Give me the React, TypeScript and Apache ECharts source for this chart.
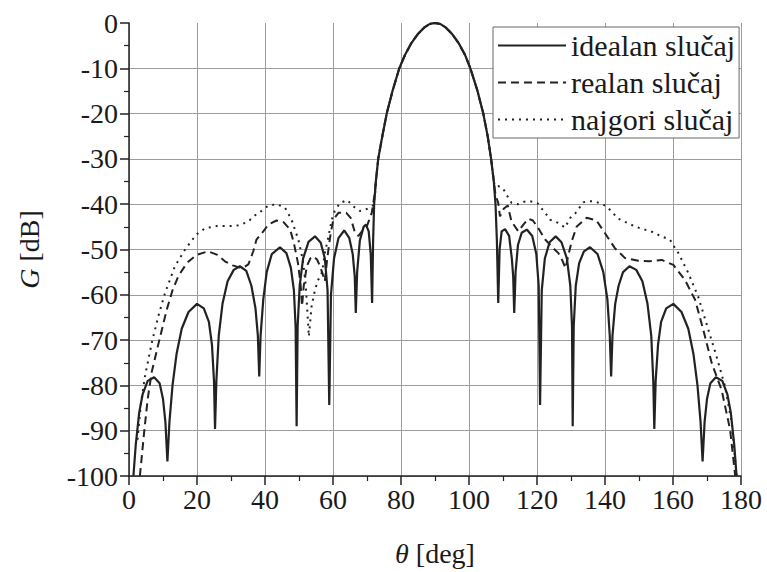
import React, { useEffect, useRef } from "react";
import * as echarts from "echarts";

const xTicks = [0, 20, 40, 60, 80, 100, 120, 140, 160, 180];
const yTicks = [0, -10, -20, -30, -40, -50, -60, -70, -80, -90, -100];
const seriesNames = ["idealan slučaj", "realan slučaj", "najgori slučaj"];

const mainLobeTheta = [72.6, 73.3, 74.5, 75.8, 77.5, 79.5, 81.2, 83, 85, 87, 88.5, 90, 91.5, 93, 95, 97, 98.8, 100.4, 102.5, 104.2, 105.5, 106.5, 107.3];
const mainLobeG = [-35, -30, -25, -20, -15, -10, -7, -4.5, -2.4, -0.9, -0.2, 0, -0.2, -0.9, -2.4, -4.5, -7, -10, -15, -20, -25, -30, -35];

const idealLeftTheta = [1.3, 2, 3, 4, 5.5, 7.4, 9, 10, 10.7, 11.3, 11.9, 12.8, 14, 15.5, 17.5, 20, 22, 23.5, 24.4, 25, 25.3, 25.7, 26.4, 27.5, 29, 30.8, 32.6, 34.5, 36, 37.2, 37.9, 38.3, 38.7, 39.5, 40.5, 42, 44.4, 46.3, 47.6, 48.5, 49, 49.3, 49.6, 50.2, 51.2, 52.8, 54.7, 56.4, 57.6, 58.4, 58.9, 59.4, 60.3, 61.6, 63.3, 64.8, 65.8, 66.4, 66.7, 67.1, 67.9, 69, 69.7, 70.5, 71.1, 71.5, 71.8, 72.1];
const idealLeftG = [-100, -93, -86, -82, -79, -78.2, -79.5, -83, -88, -96.8, -88, -80, -73, -67.5, -63.8, -62, -63, -66, -71, -79, -89.6, -79, -69, -62, -57, -54.5, -53.7, -54.7, -58, -63, -69, -78, -69, -61, -55, -51, -49.5, -50.8, -54, -59, -67, -89, -67, -58, -52, -48.3, -47.1, -48.5, -52, -59, -84.3, -60, -52, -47.5, -45.8, -47.5, -51, -56, -64, -55, -48, -45, -44.5, -46, -51, -61.8, -48, -40];
const idealRightTheta = [107.8, 108.2, 108.6, 109, 109.6, 110.6, 111.8, 112.6, 113, 113.3, 113.7, 114.4, 115.5, 117, 118.6, 119.8, 120.5, 120.9, 121.4, 122.3, 123.7, 125.5, 127.2, 128.8, 129.8, 130.3, 130.5, 130.8, 131.4, 132.4, 133.8, 135.6, 137.8, 139.5, 140.7, 141.4, 141.8, 142.2, 143, 144, 145.3, 147.2, 149.2, 151, 152.5, 153.6, 154.2, 154.5, 154.9, 155.6, 156.5, 158, 160.1, 162.5, 164.5, 166, 167.2, 168.1, 168.7, 169.3, 170, 171, 172.6, 174.5, 176, 177, 178, 178.7];
const idealRightG = [-40, -48, -61.8, -50, -46, -45.5, -47, -52, -56, -64, -55, -49, -46.3, -45.6, -47, -51, -58, -84.3, -59, -52, -48.4, -47.1, -48.4, -52, -58, -67, -89, -67, -58, -53, -50.4, -49.5, -51, -55, -61, -69, -78, -69, -62, -58, -55, -53.7, -54.5, -57, -62, -69, -79, -89.6, -79, -71, -66, -63, -62, -63.8, -67.5, -73, -80, -88, -96.8, -88, -83, -79.5, -78.2, -79, -82, -86, -93, -100];

const realLeftTheta = [3.2, 4.5, 5.5, 6.7, 8.6, 11.1, 12.8, 14.5, 17, 19.8, 23.3, 26, 28.2, 30.5, 32.6, 34, 35.1, 36.5, 37.5, 39.5, 41, 43.4, 45.5, 47.4, 48.5, 49.7, 50.5, 50.9, 51.4, 52.3, 53.3, 54.2, 55.3, 56.2, 57, 57.6, 58.3, 59.3, 60.1, 61.6, 63.9, 65.2, 66.5, 67.5, 68.5, 69.9, 71.4, 72.2];
const realLeftG = [-100, -90, -83, -77, -71, -63.3, -59, -55.9, -53, -51.2, -50.4, -51.2, -52.6, -53.5, -54, -53.8, -53.3, -50.5, -47.8, -46, -44.5, -43.6, -44, -45.6, -48.6, -53, -58, -62.5, -58, -53.7, -52, -51.5, -52.2, -53.7, -55.5, -57, -52, -46.5, -43.4, -41.9, -41.9, -43, -46.4, -47, -46, -45, -41.9, -38];
const realRightTheta = [107.8, 108.6, 109.1, 110.2, 111.4, 112.5, 114.5, 116, 117.4, 118.8, 120.4, 122.4, 124.5, 126.3, 127.5, 128.4, 129.3, 130.2, 131.7, 134.6, 137.5, 140, 142.9, 145.9, 149.8, 153, 156.7, 160.1, 163.5, 166.5, 168.9, 171.4, 174.3, 176.8, 178.3];
const realRightG = [-38, -39.7, -42.7, -41, -40.3, -43.8, -46, -44.5, -43.2, -43.6, -45.3, -47.8, -49.5, -50.8, -52.5, -54.1, -51, -48.2, -44.9, -43, -43.6, -46.4, -49.7, -51.9, -52.5, -52.6, -52.3, -53.4, -56.7, -61.1, -67.7, -75.1, -81, -89.8, -100];

const worstLeftTheta = [2.5, 3.5, 4.7, 6.7, 8.6, 10.6, 13.5, 16.5, 19.8, 22.4, 26, 31.2, 33, 35.1, 37, 39.3, 41, 43.5, 45.9, 47.8, 49.8, 51.1, 52, 52.9, 53.7, 54.7, 55.6, 56.8, 57.6, 58.6, 59.6, 60.5, 62.1, 64.2, 66, 67.9, 70.1, 71.9, 72.4];
const worstLeftG = [-92, -84, -78, -70.6, -64.8, -59.6, -53.7, -50, -46.7, -45.3, -44.8, -44.8, -44.5, -43.8, -42.5, -41.3, -40.3, -40, -40.8, -43.4, -47.8, -52.2, -58, -69.2, -62.6, -58.9, -56.8, -55, -50.8, -47.4, -43.5, -41.5, -39.7, -39.1, -40.5, -41.5, -41, -40.2, -37.5];
const worstRightTheta = [107.6, 108.6, 110, 111.5, 112.5, 114.5, 116, 117.5, 119, 120.2, 120.9, 122.8, 123.8, 126.8, 128.2, 130.2, 131.3, 133.6, 135.1, 137.1, 139.5, 140.5, 143.9, 148.8, 150.3, 154.7, 156.2, 159.1, 160.6, 161.6, 164.5, 167.4, 170.4, 172.8, 175.3, 177.3, 178.7];
const worstRightG = [-36, -36, -36.5, -38.5, -39.7, -40, -39.5, -39.3, -39.5, -39.8, -40.5, -42.3, -43.4, -44.3, -45.2, -42.5, -42, -39.6, -39.3, -39.4, -40.1, -40.5, -43.2, -44.9, -45.3, -46.3, -47, -47.8, -49.7, -50.8, -55.2, -60.4, -67.7, -73.6, -80.2, -88.4, -100];

const FONT = '"Liberation Serif", "Times New Roman", Times, serif';
const TEXT = "#1a1a1a";
const INK = "#222";

function zip(t: number[], g: number[]): number[][] {
  return t.map((v, i) => [v, g[i]]);
}

function build(lt: number[], lg: number[], rt: number[], rg: number[]): number[][] {
  const left = zip(lt, lg);
  const lastLeft = lt[lt.length - 1];
  const firstRight = rt[0];
  const main = zip(mainLobeTheta, mainLobeG).filter((p) => p[0] > lastLeft && p[0] < firstRight);
  return [...left, ...main, ...zip(rt, rg)];
}

export default function App() {
  const ref = useRef<HTMLDivElement>(null);
  useEffect(() => {
    if (!ref.current) return;
    const chart = echarts.init(ref.current, null, { renderer: "svg" });
    const axisCommon = {
      type: "value" as const,
      axisLine: { show: true, onZero: false, lineStyle: { color: INK, width: 1.5 } },
      axisTick: { show: true, inside: false, length: 9, lineStyle: { color: INK, width: 1.5 } },
      minorTick: { show: true, splitNumber: 2, length: 5, lineStyle: { color: INK, width: 1.2 } },
      axisLabel: { fontFamily: FONT, fontSize: 28, color: TEXT },
      nameLocation: "middle" as const,
      nameTextStyle: {
        fontFamily: FONT,
        fontSize: 28,
        color: TEXT,
        rich: { i: { fontFamily: FONT, fontSize: 28, fontStyle: "italic", color: TEXT } },
      },
    };
    const hiddenSymbol = { color: "rgba(0,0,0,0)", borderWidth: 0, opacity: 0 };
    chart.setOption({
      animation: false,
      backgroundColor: "#fff",
      grid: { left: 129, right: 26, top: 23, bottom: 96, containLabel: false },
      xAxis: {
        ...axisCommon,
        min: xTicks[0],
        max: xTicks[xTicks.length - 1],
        interval: xTicks[1] - xTicks[0],
        splitLine: { show: true, lineStyle: { color: "#9c9c9c", width: 1 } },
        axisLabel: { ...axisCommon.axisLabel, margin: 9 },
        name: "{i|θ} [deg]",
        nameGap: 63,
      },
      yAxis: {
        ...axisCommon,
        min: yTicks[yTicks.length - 1],
        max: yTicks[0],
        interval: 10,
        splitLine: { show: true, showMaxLine: false, lineStyle: { color: "#9c9c9c", width: 1 } },
        axisLabel: { ...axisCommon.axisLabel, margin: 11 },
        name: "{i|G} [dB]",
        nameRotate: 90,
        nameGap: 86,
      },
      legend: {
        orient: "vertical",
        left: 493,
        top: 27,
        itemWidth: 68,
        itemHeight: 14,
        itemGap: 6,
        itemTextGap: 6,
        padding: [3, 4, 3, 4],
        borderColor: "#666",
        borderWidth: 1,
        borderRadius: 0,
        backgroundColor: "#fff",
        itemStyle: hiddenSymbol,
        textStyle: { fontFamily: FONT, fontSize: 30, color: TEXT, lineHeight: 31 },
        data: seriesNames,
      },
      series: [
        {
          name: seriesNames[0],
          type: "line",
          showSymbol: false,
          symbol: "none",
          data: build(idealLeftTheta, idealLeftG, idealRightTheta, idealRightG),
          lineStyle: { color: INK, width: 2.2, type: "solid" },
          itemStyle: hiddenSymbol,
          z: 5,
        },
        {
          name: seriesNames[1],
          type: "line",
          showSymbol: false,
          symbol: "none",
          data: build(realLeftTheta, realLeftG, realRightTheta, realRightG),
          lineStyle: { color: INK, width: 2, type: [8, 5] },
          itemStyle: hiddenSymbol,
          z: 4,
        },
        {
          name: seriesNames[2],
          type: "line",
          showSymbol: false,
          symbol: "none",
          data: build(worstLeftTheta, worstLeftG, worstRightTheta, worstRightG),
          lineStyle: { color: INK, width: 2, type: [2, 5] },
          itemStyle: hiddenSymbol,
          z: 3,
        },
      ],
    });
    return () => chart.dispose();
  }, []);
  return (
    <div
      ref={ref}
      style={{ position: "fixed", left: 0, top: 0, width: 767, height: 572, background: "#fff" }}
    />
  );
}
